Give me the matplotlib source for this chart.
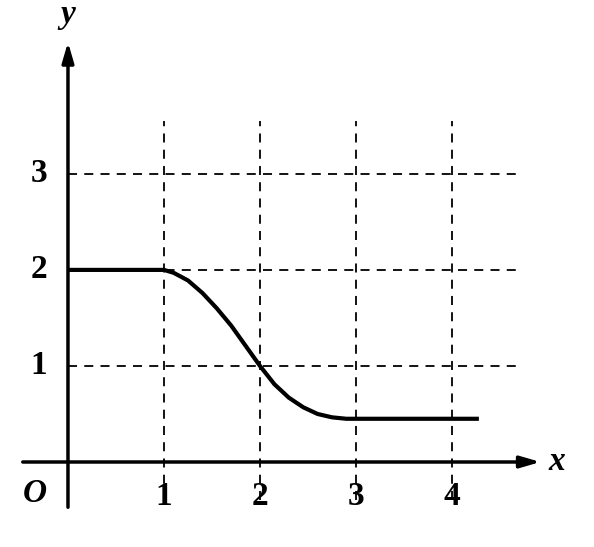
import matplotlib
matplotlib.use("Agg")
import matplotlib.pyplot as plt

curve_x = [0, 1, 1.1, 1.25, 1.4, 1.55, 1.7, 1.85, 2, 2.15, 2.3, 2.45, 2.6, 2.75, 2.9, 3, 4.28]
curve_y = [2, 2, 1.97, 1.89, 1.76, 1.6, 1.42, 1.21, 1.0, 0.81, 0.67, 0.57, 0.5, 0.465, 0.45, 0.45, 0.45]
x_ticks = [1, 2, 3, 4]
y_ticks = [1, 2, 3]

fig = plt.figure(figsize=(5.94, 5.47), dpi=100)
ax = fig.add_axes([0, 0, 1, 1])
ax.set_xlim(-0.708, 5.479)
ax.set_ylim(-0.885, 4.81)
ax.axis('off')

for x in x_ticks:
    ax.plot([x, x], [-0.4, 3.55], color='black', lw=1.3, ls=(0, (5, 4)))
for y in y_ticks:
    ax.plot([0, 4.7], [y, y], color='black', lw=1.3, ls=(0, (5, 4)))

ax.annotate('', xy=(4.95, 0), xytext=(-0.5, 0),
            arrowprops=dict(arrowstyle='-|>,head_length=1.2,head_width=0.35', color='black', lw=2.5))
ax.annotate('', xy=(0, 4.4), xytext=(0, -0.5),
            arrowprops=dict(arrowstyle='-|>,head_length=1.2,head_width=0.35', color='black', lw=2.5))

ax.plot(curve_x, curve_y, color='black', lw=3, solid_capstyle='butt')

fp = dict(family='Liberation Serif', fontsize=24, fontweight='bold')
for x in x_ticks:
    ax.text(x, -0.2, str(x), ha='center', va='top', **fp)
for y in y_ticks:
    ax.text(-0.22, y, str(y), ha='right', va='center', **fp)
ax.text(-0.22, -0.17, 'O', ha='right', va='top', style='italic', **fp)
ax.text(5.0, 0.0, 'x', ha='left', va='center', style='italic', **fp)
ax.text(0, 4.5, 'y', ha='center', va='bottom', style='italic', **fp)

fig.savefig('out.png', dpi=100)
